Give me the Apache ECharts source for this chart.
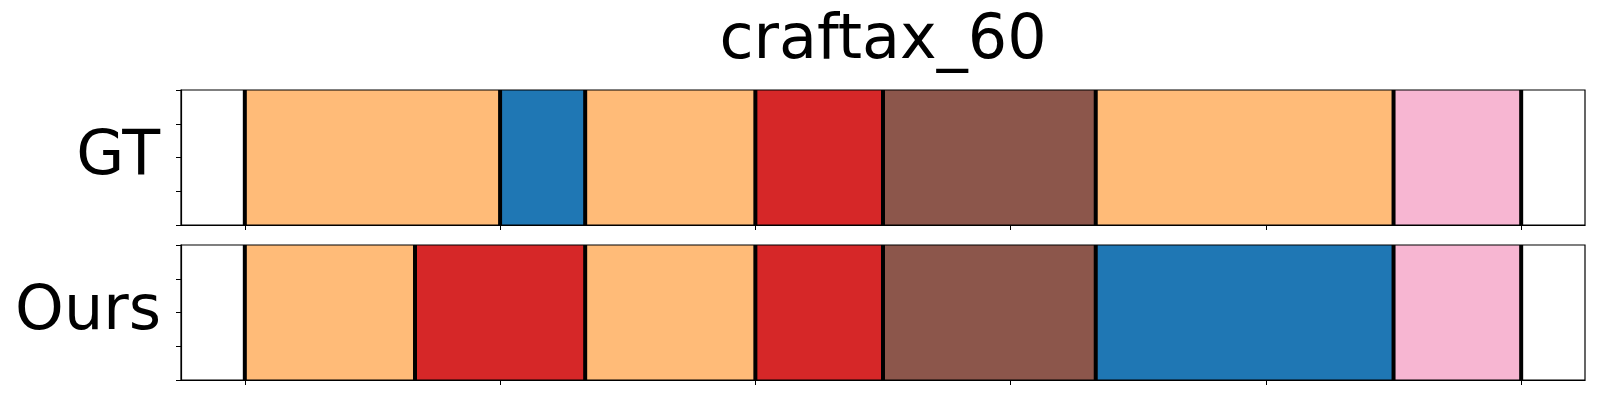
<!DOCTYPE html>
<html>
<head>
<meta charset="utf-8">
<script src="https://cdn.jsdelivr.net/npm/echarts@6/dist/echarts.min.js"></script>
<style>html,body{margin:0;padding:0;background:#fff}#c{width:1600px;height:400px}</style>
</head>
<body>
<div id="c"></div>
<script>
// ---- data ----
const chartTitle = 'craftax_60';
const rowNames = ['GT', 'Ours'];
const totalLen = 30;
const xTicks = [0, 6, 12, 18, 24, 30];
const yTicks = [0, 0.25, 0.5, 0.75, 1];
// segments: start, end, class id
const gtStarts = [0, 6, 8, 12, 15, 20, 27];
const gtEnds   = [6, 8, 12, 15, 20, 27, 30];
const gtClass  = [1, 0, 1, 2, 3, 1, 4];
const oursStarts = [0, 4, 8, 12, 15, 20, 27];
const oursEnds   = [4, 8, 12, 15, 20, 27, 30];
const oursClass  = [1, 2, 1, 2, 3, 0, 4];

// ---- styles ----
const palette = ['#1f77b4', '#ffbb78', '#d62728', '#8c564b', '#f7b6d2'];
const FONT = 'DejaVu Sans';
const grids = [
  {left: 181, right: 15, top: 90, height: 135},
  {left: 181, right: 15, top: 245, height: 135}
];

function segData(starts, ends, cls) {
  return starts.map((s, i) => [s, ends[i], cls[i]]);
}
function boundaryData(starts, ends) {
  const set = new Set();
  starts.forEach(v => set.add(v));
  ends.forEach(v => set.add(v));
  return Array.from(set).sort((a, b) => a - b).map(v => [v]);
}

const rows = [segData(gtStarts, gtEnds, gtClass), segData(oursStarts, oursEnds, oursClass)];
const bounds = [boundaryData(gtStarts, gtEnds), boundaryData(oursStarts, oursEnds)];
const margin = totalLen * 0.05;

const xAxes = [], yAxes = [], series = [];
grids.forEach((g, i) => {
  xAxes.push({
    type: 'value', gridIndex: i, min: -margin, max: totalLen + margin,
    position: 'bottom',
    axisLine: {show: true, onZero: false, lineStyle: {color: '#000', width: 1.2}},
    splitLine: {show: false},
    axisLabel: {show: false},
    axisTick: {show: true, length: 5, lineStyle: {color: '#000', width: 1}, customValues: xTicks}
  });
  yAxes.push({
    type: 'value', gridIndex: i, min: 0, max: 1,
    position: 'left',
    axisLine: {show: true, onZero: false, lineStyle: {color: '#000', width: 1.2}},
    splitLine: {show: false},
    axisLabel: {show: false},
    axisTick: {show: true, length: 5, lineStyle: {color: '#000', width: 1}, customValues: yTicks}
  });
  series.push({
    type: 'custom', xAxisIndex: i, yAxisIndex: i,
    data: rows[i],
    renderItem: function (params, api) {
      const p0 = api.coord([api.value(0), 1]);
      const p1 = api.coord([api.value(1), 0]);
      return {
        type: 'rect',
        shape: {x: p0[0], y: p0[1], width: p1[0] - p0[0], height: p1[1] - p0[1]},
        style: {fill: palette[api.value(2)]}
      };
    },
    silent: true, z: 2
  });
  series.push({
    type: 'custom', xAxisIndex: i, yAxisIndex: i,
    data: bounds[i],
    renderItem: function (params, api) {
      const p0 = api.coord([api.value(0), 1]);
      const p1 = api.coord([api.value(0), 0]);
      return {
        type: 'line',
        shape: {x1: p0[0], y1: p0[1], x2: p1[0], y2: p1[1]},
        style: {stroke: '#000', lineWidth: 4}
      };
    },
    silent: true, z: 3
  });
});

const chart = echarts.init(document.getElementById('c'), null, {renderer: 'canvas'});
chart.setOption({
  animation: false,
  backgroundColor: '#fff',
  grid: grids.map(g => Object.assign({show: true, borderColor: '#000', borderWidth: 1.2, backgroundColor: 'transparent', z: 10}, g)),
  xAxis: xAxes,
  yAxis: yAxes,
  series: series,
  graphic: [
    {type: 'text', x: 883, y: 42, style: {text: chartTitle, font: '62px "' + FONT + '"', fill: '#000', align: 'center', verticalAlign: 'middle'}},
    {type: 'text', x: 160, y: 158, style: {text: rowNames[0], font: '62px "' + FONT + '"', fill: '#000', align: 'right', verticalAlign: 'middle'}},
    {type: 'text', x: 161, y: 313, style: {text: rowNames[1], font: '62px "' + FONT + '"', fill: '#000', align: 'right', verticalAlign: 'middle'}}
  ]
});
</script>
</body>
</html>
